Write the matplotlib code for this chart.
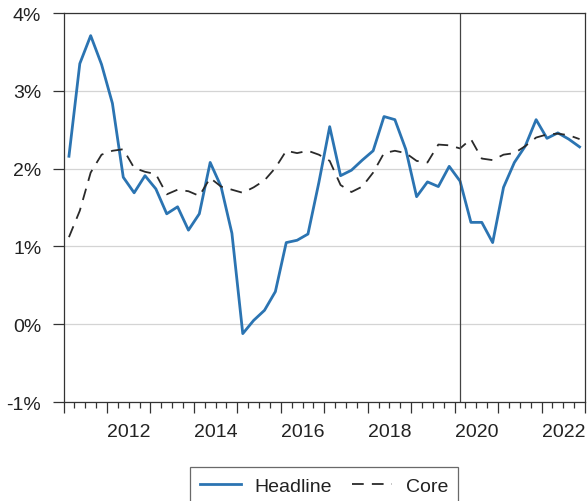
import matplotlib
matplotlib.use('Agg')
import matplotlib.pyplot as plt
from matplotlib.ticker import MultipleLocator, FuncFormatter
import pandas as pd
import numpy as np

plt.rcParams['font.family'] = ['Liberation Sans', 'DejaVu Sans']

# quarterly data, 2011Q1 - 2022Q4 (percent)
quarters = pd.period_range('2011Q1', '2022Q4', freq='Q')
headline = [2.16, 3.35, 3.71, 3.34, 2.84, 1.89, 1.69, 1.91,
            1.74, 1.42, 1.51, 1.21, 1.42, 2.08, 1.77, 1.17,
            -0.12, 0.05, 0.18, 0.42, 1.05, 1.08, 1.16, 1.82,
            2.54, 1.91, 1.98, 2.11, 2.23, 2.67, 2.63, 2.25,
            1.64, 1.83, 1.77, 2.03, 1.84, 1.31, 1.31, 1.05,
            1.76, 2.08, 2.29, 2.63, 2.39, 2.46, 2.38, 2.28]
core = [1.12, 1.46, 1.95, 2.18, 2.23, 2.25, 2.01, 1.96,
        1.93, 1.67, 1.73, 1.71, 1.65, 1.88, 1.77, 1.73,
        1.69, 1.76, 1.85, 2.01, 2.23, 2.20, 2.23, 2.18,
        2.10, 1.79, 1.70, 1.77, 1.95, 2.20, 2.23, 2.20,
        2.10, 2.08, 2.31, 2.30, 2.26, 2.38, 2.13, 2.11,
        2.18, 2.20, 2.29, 2.40, 2.44, 2.45, 2.43, 2.38]
label_years = [2012, 2014, 2016, 2018, 2020, 2022]
marker_quarter = pd.Period('2020Q1', freq='Q')

# mid-quarter positions in decimal years
x = np.array([q.year + (q.quarter - 1) / 4 + 0.125 for q in quarters])
x_mark = marker_quarter.year + (marker_quarter.quarter - 1) / 4 + 0.125

fig = plt.figure(figsize=(5.87, 5.02), dpi=100)
ax = fig.add_axes([0.1082, 0.197, 0.8884, 0.775])

ax.plot(x, headline, color='#2b74b2', lw=2.0, label='Headline')
ax.plot(x, core, color='#2a2a2a', lw=1.3, dashes=(6.5, 4.5), label='Core')
ax.axvline(x_mark, color='#444444', lw=0.9)

ax.set_xlim(2011, 2023)
ax.set_ylim(-1, 4)
ax.yaxis.set_major_locator(MultipleLocator(1))
ax.yaxis.set_major_formatter(FuncFormatter(lambda v, p: f'{v:.0f}%'))
ax.grid(axis='y', color='#d4d4d4', lw=0.9)
ax.set_axisbelow(True)

# year boundary ticks (unlabelled) + quarter minor ticks
ax.xaxis.set_major_locator(MultipleLocator(1))
ax.xaxis.set_minor_locator(MultipleLocator(0.25))
ax.xaxis.set_major_formatter(FuncFormatter(lambda v, p: ''))
ax.tick_params(axis='x', which='major', length=8, width=0.9, color='#333333')
ax.tick_params(axis='x', which='minor', length=4, width=0.9, color='#333333')
ax.tick_params(axis='y', length=8, width=0.9, color='#333333',
               labelsize=14, pad=8, labelcolor='#222222')

# year labels centred in the middle of each year
sec = ax.secondary_xaxis('bottom')
sec.set_xticks([y + 0.5 for y in label_years])
sec.set_xticklabels([str(y) for y in label_years])
sec.tick_params(length=0, labelsize=14, pad=15, labelcolor='#222222')
sec.spines['bottom'].set_visible(False)

for s in ax.spines.values():
    s.set_color('#333333')
    s.set_linewidth(0.9)

leg = ax.legend(loc='upper center', bbox_to_anchor=(0.5, -0.143), ncol=2,
                fontsize=14, frameon=True, fancybox=False, edgecolor='#444444',
                handlelength=2.1, columnspacing=1.0, handletextpad=0.7,
                borderpad=0.5)
leg.get_frame().set_linewidth(0.9)
for t in leg.get_texts():
    t.set_color('#222222')

fig.savefig('out.png', dpi=100)
